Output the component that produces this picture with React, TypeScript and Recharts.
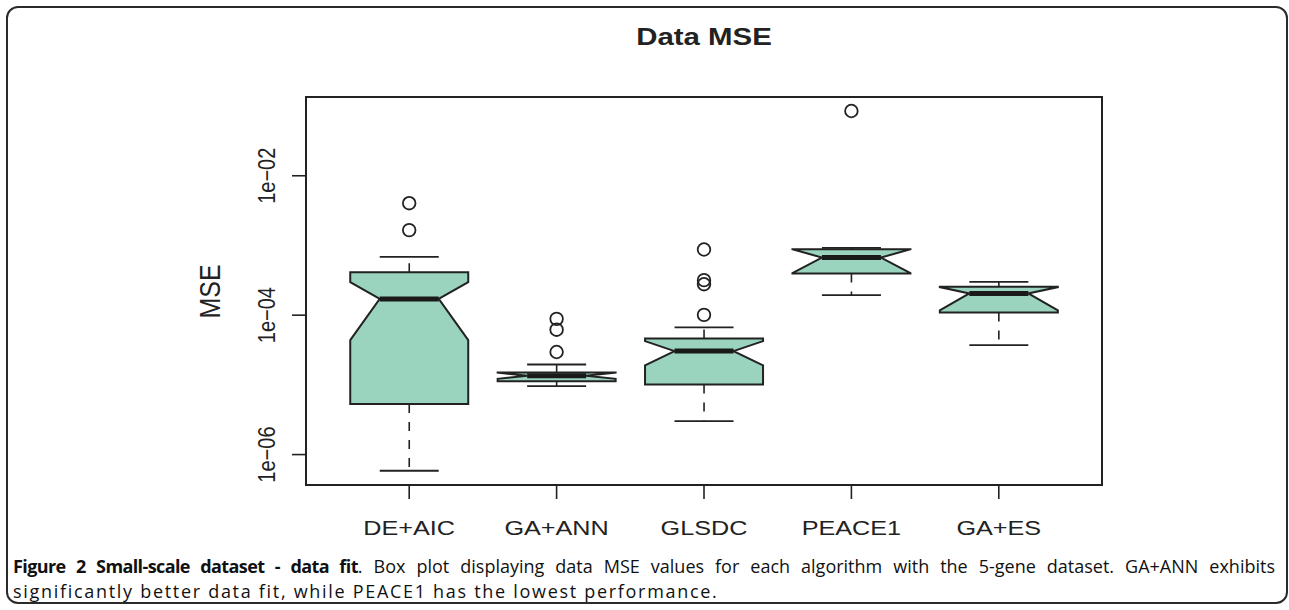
import React from 'react';
import { ComposedChart, Bar, Scatter, XAxis, YAxis } from 'recharts';

// values (MSE, log axis)
const categories = ['DE+AIC', 'GA+ANN', 'GLSDC', 'PEACE1', 'GA+ES'];
const whiskerLow = [5.86e-7, 9.6e-6, 3.02e-6, 1.94e-4, 3.72e-5];
const quartile1 = [5.3e-6, 1.13e-5, 1.01e-5, 3.96e-4, 1.09e-4];
const notchLow = [4.38e-5, 1.22e-5, 1.9e-5, 4.0e-4, 1.17e-4];
const median = [1.71e-4, 1.35e-5, 3.05e-5, 6.71e-4, 2.05e-4];
const notchHigh = [2.97e-4, 1.5e-5, 4.24e-5, 8.8e-4, 2.53e-4];
const quartile3 = [4.13e-4, 1.51e-5, 4.64e-5, 8.83e-4, 2.55e-4];
const whiskerHigh = [6.86e-4, 1.96e-5, 6.67e-5, 9.22e-4, 3.0e-4];

const outlierCategory = [
  'DE+AIC', 'DE+AIC',
  'GA+ANN', 'GA+ANN', 'GA+ANN',
  'GLSDC', 'GLSDC', 'GLSDC', 'GLSDC',
  'PEACE1',
];
const outlierValue = [
  1.66e-3, 4.04e-3,
  8.85e-5, 6.19e-5, 2.96e-5,
  8.75e-4, 3.18e-4, 2.78e-4, 1.01e-4,
  8.49e-2,
];

const yTicks = [1e-6, 1e-4, 1e-2];
const Y_MIN = 3.66e-7;
const Y_MAX = 0.1349;

const boxData = categories.map((name, i) => ({
  name,
  range: [whiskerLow[i], whiskerHigh[i]],
  q1: quartile1[i],
  nl: notchLow[i],
  med: median[i],
  nh: notchHigh[i],
  q3: quartile3[i],
}));

const outlierData = outlierCategory.map((name, i) => ({ name, mse: outlierValue[i] }));

const INK = '#222222';
const FILL = '#9AD4BF';
const STRETCH = 1.2;

const fmtTick = (v: number) => {
  const e = Math.round(Math.log10(v));
  return `1e\u2212${String(-e).padStart(2, '0')}`;
};

const BoxShape = (props: any) => {
  const { x, y, width, height, payload } = props;
  if (x == null || !payload) return null;
  const top = Math.min(y, y + height);
  const bottom = Math.max(y, y + height);
  const [lo, hi] = payload.range;
  const L = Math.log10;
  // log scale between the whisker ends that the axis has placed
  const py = (v: number) => top + ((bottom - top) * (L(hi) - L(v))) / (L(hi) - L(lo));
  const cx = x + width / 2;
  const hw = width / 2;
  const nf = 0.5;
  const cap = width / 4;
  const ys = [payload.q1, payload.nl, payload.med, payload.nh, payload.q3, payload.q3, payload.nh, payload.med, payload.nl, payload.q1].map(py);
  const xs = [-1, -1, -nf, -1, -1, 1, 1, nf, 1, 1].map((k) => cx + k * hw);
  const pts = xs.map((px, i) => `${px},${ys[i]}`).join(' ');
  return (
    <g>
      <line x1={cx} x2={cx} y1={py(payload.q3)} y2={py(hi)} stroke={INK} strokeWidth={1.6} strokeDasharray="9 9" />
      <line x1={cx} x2={cx} y1={py(payload.q1)} y2={py(lo)} stroke={INK} strokeWidth={1.6} strokeDasharray="9 9" />
      <polygon points={pts} fill={FILL} stroke={INK} strokeWidth={2} strokeLinejoin="miter" />
      <line x1={cx - nf * hw} x2={cx + nf * hw} y1={py(payload.med)} y2={py(payload.med)} stroke="#1a1a1a" strokeWidth={5} />
      <line x1={cx - cap} x2={cx + cap} y1={py(hi)} y2={py(hi)} stroke={INK} strokeWidth={1.8} />
      <line x1={cx - cap} x2={cx + cap} y1={py(lo)} y2={py(lo)} stroke={INK} strokeWidth={1.8} />
    </g>
  );
};

const OutlierShape = (props: any) => {
  const { cx, cy } = props;
  if (cx == null || cy == null || isNaN(cy)) return null;
  return <circle cx={cx} cy={cy} r={6.3} fill="none" stroke={INK} strokeWidth={1.8} />;
};

const XTick = (props: any) => {
  const { x, y, payload } = props;
  return (
    <text
      transform={`translate(${x},${y + 34}) scale(${STRETCH},1)`}
      textAnchor="middle"
      fontFamily="'Liberation Sans', Arial, sans-serif"
      fontSize={21}
      fill={INK}
    >
      {payload.value}
    </text>
  );
};

const YTick = (props: any) => {
  const { x, y, payload } = props;
  return (
    <text
      transform={`translate(${x - 15},${y}) scale(${STRETCH},1) rotate(-90)`}
      textAnchor="middle"
      fontFamily="'Liberation Sans', Arial, sans-serif"
      fontSize={20}
      fill={INK}
    >
      {fmtTick(payload.value)}
    </text>
  );
};

const captionFont: React.CSSProperties = {
  position: 'absolute',
  left: 13,
  width: 1262,
  fontFamily: "'Open Sans', sans-serif",
  fontSize: 18,
  lineHeight: '25px',
  color: '#111',
  whiteSpace: 'nowrap',
};

export default function App() {
  return (
    <div style={{ position: 'absolute', left: 0, top: 0, width: 1289, height: 610, background: '#fff', overflow: 'hidden' }}>
      <div
        style={{
          position: 'absolute',
          left: 6,
          top: 6,
          width: 1282,
          height: 598,
          border: '2px solid #2b2b2b',
          borderRadius: 12,
          boxSizing: 'border-box',
        }}
      />
      <div style={{ position: 'absolute', left: 0, top: 0 }}>
        <ComposedChart
          width={1289}
          height={540}
          data={boxData}
          margin={{ top: 97, right: 187, bottom: 0, left: 206 }}
          barCategoryGap="10%"
        >
          <XAxis
            dataKey="name"
            type="category"
            allowDuplicatedCategory={false}
            padding={{ left: 29.5, right: 29.5 }}
            interval={0}
            height={55}
            axisLine={false}
            tickSize={14}
            tickLine={{ stroke: INK, strokeWidth: 1.6 }}
            tick={<XTick />}
          />
          <YAxis
            type="number"
            scale="log"
            domain={[Y_MIN, Y_MAX]}
            allowDataOverflow
            ticks={yTicks}
            width={100}
            axisLine={false}
            tickSize={14}
            tickLine={{ stroke: INK, strokeWidth: 1.6 }}
            tick={<YTick />}
          />
          <Bar dataKey="range" shape={<BoxShape />} isAnimationActive={false} />
          <Scatter data={outlierData} dataKey="mse" shape={<OutlierShape />} isAnimationActive={false} />
        </ComposedChart>
      </div>
      <div
        style={{
          position: 'absolute',
          left: 305,
          top: 96,
          width: 798,
          height: 390,
          border: `2px solid ${INK}`,
          boxSizing: 'border-box',
          pointerEvents: 'none',
        }}
      />
      <svg width={1289} height={540} style={{ position: 'absolute', left: 0, top: 0, pointerEvents: 'none' }}>
        <text
          transform={`translate(704,45) scale(${STRETCH},1)`}
          textAnchor="middle"
          fontFamily="'Liberation Sans', Arial, sans-serif"
          fontWeight="bold"
          fontSize={24.5}
          fill={INK}
        >
          Data MSE
        </text>
        <text
          transform={`translate(220,291.5) scale(${STRETCH},1) rotate(-90)`}
          textAnchor="middle"
          fontFamily="'Liberation Sans', Arial, sans-serif"
          fontSize={25}
          fill={INK}
        >
          MSE
        </text>
      </svg>
      <div style={{ ...captionFont, top: 554, textAlign: 'justify', textAlignLast: 'justify' }}>
        <b style={{ letterSpacing: -0.6 }}>Figure 2 Small-scale dataset - data fit</b>. Box plot displaying data MSE values
        for each algorithm with the 5-gene dataset. GA+ANN exhibits
      </div>
      <div style={{ ...captionFont, top: 579, letterSpacing: 1.7 }}>
        significantly better data fit, while PEACE1 has the lowest performance.
      </div>
    </div>
  );
}
